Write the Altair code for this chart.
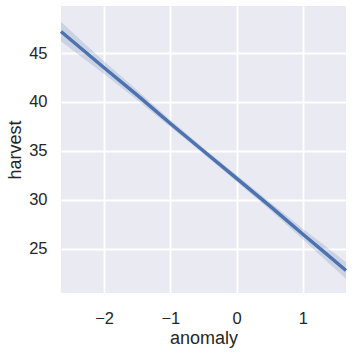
import altair as alt
import pandas as pd

anomaly = [-2.65, -2.3, -2.0, -1.5, -1.0, -0.5, 0.0, 0.5, 1.0, 1.3, 1.65]
harvest_fit = [47.2, 45.2, 43.5, 40.7, 37.8, 35.0, 32.2, 29.4, 26.5, 24.8, 22.8]
ci_low = [46.2, 44.4, 42.85, 40.2, 37.45, 34.7, 31.85, 29.0, 25.95, 24.1, 21.95]
ci_high = [48.2, 46.0, 44.15, 41.2, 38.15, 35.3, 32.55, 29.8, 27.05, 25.5, 23.65]

df = pd.DataFrame({"anomaly": anomaly, "harvest": harvest_fit, "lo": ci_low, "hi": ci_high})

x = alt.X("anomaly:Q", scale=alt.Scale(domain=[-2.65, 1.65], nice=False, zero=False),
          axis=alt.Axis(values=[-2, -1, 0, 1], title="anomaly", labelPadding=17, titlePadding=3))
yscale = alt.Scale(domain=[20.5, 49.8], nice=False, zero=False)
yaxis = alt.Axis(values=[25, 30, 35, 40, 45], title="harvest", labelPadding=14, titlePadding=4)
y = alt.Y("harvest:Q", scale=yscale, axis=yaxis)

band = alt.Chart(df).mark_area(color="#4C72B0", opacity=0.2).encode(
    x=x, y=alt.Y("lo:Q", scale=yscale, axis=yaxis), y2="hi:Q")
line = alt.Chart(df).mark_line(color="#4C72B0", strokeWidth=3.4).encode(x=x, y=y)

chart = (band + line).properties(
    width=285, height=287,
    autosize=alt.AutoSizeParams(type="none"),
    padding={"left": 61, "top": 6, "right": 6, "bottom": 59},
    background="white",
).configure_view(fill="#EAEAF2", stroke=None).configure_axis(
    grid=True, gridColor="white", gridWidth=1.8, domain=False, ticks=False,
    labelFont="Liberation Sans", titleFont="Liberation Sans",
    labelFontSize=16.5, titleFontSize=18, labelColor="#262626", titleColor="#262626",
    titleFontWeight="normal",
)

chart.save("out.html", embed_options={"renderer": "svg", "actions": False})
